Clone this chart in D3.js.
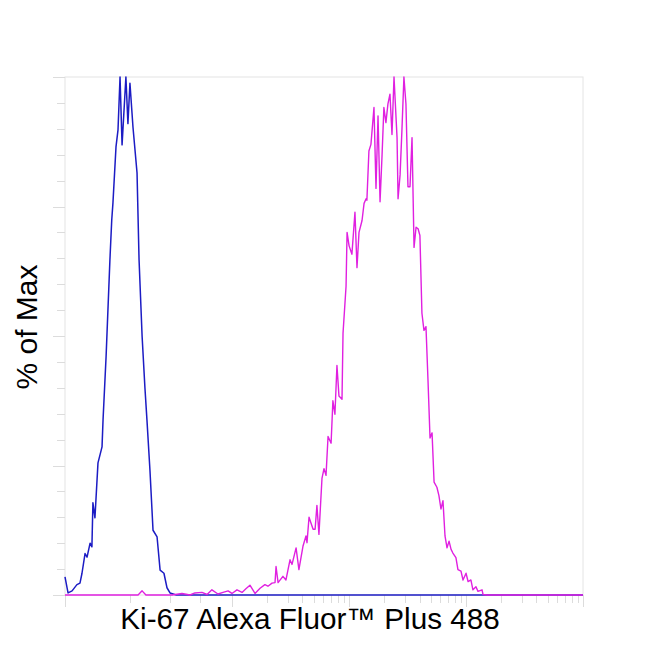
<!DOCTYPE html>
<html>
<head>
<meta charset="utf-8">
<script src="https://cdn.jsdelivr.net/npm/d3@7.9.0/dist/d3.min.js"></script>
<style>
  body { margin: 0; background: #fff; }
  svg { display: block; font-family: "Liberation Sans", Arial, sans-serif; }
</style>
</head>
<body>
<div id="chart"></div>
<script>
// histogram bins: [channel (0-256), % of max]
const isotypeHist = [
  [0, 3.5], [1.5, 0.4], [3.5, 0.8], [5.9, 2], [7.4, 2.3], [8.4, 4.2], [9.9, 8],
  [10.9, 7.3], [12.4, 10], [13.3, 9.3], [13.8, 17.8], [14.8, 14.9], [16.3, 25.5],
  [18.3, 28.6], [18.8, 33.8], [20.3, 46], [22.2, 64.7], [23.1, 72.4], [23.7, 75.7],
  [25.2, 86.5], [26.2, 89.8], [27.2, 100], [28.2, 86.9], [30.1, 100], [31.1, 91],
  [32.1, 98.8], [33.6, 90.3], [35.6, 81.5], [36.6, 64.7], [38.1, 50], [39.5, 40],
  [40.5, 33.8], [42, 24], [43.5, 12.5], [45.5, 11.2], [47, 4.8], [48.9, 4.2],
  [50.4, 1.4], [51.9, 0.4], [53.4, 0.2], [55, 0], [256, 0]
];

const ki67Hist = [
  [0, 0], [36.1, 0], [38.1, 0.8], [40, 0], [52.9, 0], [57.8, 0.3], [61.8, 0],
  [64.2, 0.4], [67.7, 0.5], [70.2, 0.1], [72.6, 1.0], [75.6, 0.2], [78.1, 0.5],
  [80.6, 0.8], [82.5, 0.3], [85, 1.0], [87.5, 0.5], [89.4, 1.2], [91.4, 1.9],
  [93.9, 0.3], [96.4, 1.3], [98.8, 2.0], [100.3, 1.7], [102.3, 2.3], [103.8, 2.4],
  [104.3, 5.5], [105.3, 2.4], [107.7, 3.6], [109.2, 2.9], [111.2, 6.8], [112.2, 5.9],
  [114.2, 9.1], [115.6, 4.9], [117.6, 9.4], [119.1, 11.4], [119.6, 10.1], [120.6, 15],
  [122.6, 12.7], [123.6, 12.7], [124.5, 17.3], [125.5, 11.7], [127, 22.5], [128, 24.4],
  [129, 23.1], [130, 30.6], [131.5, 29.3], [132.4, 37.5], [133.4, 34.9], [134.4, 44.3],
  [135.4, 38.4], [136.9, 37.8], [137.4, 50.5], [138.9, 59.6], [139.4, 70], [140.4, 67.4],
  [141.8, 65.8], [143.3, 73.9], [144.3, 63.2], [145.3, 70], [146.8, 72.3], [147.8, 75.6],
  [148.8, 76.5], [149.2, 76.2], [150.2, 85.7], [151.2, 87], [152.7, 94.1], [153.7, 78.5],
  [154.7, 92.5], [155.7, 75.9], [156.7, 85], [157.6, 94.1], [158.6, 91.2], [159.6, 94.8],
  [160.6, 96.7], [161.6, 88.9], [162.6, 100], [164.1, 88.3], [164.6, 76.5], [165.6, 81.1],
  [166.5, 89.6], [167.5, 100], [168.5, 94.8], [169.5, 78.8], [170.5, 78.8], [171.5, 88.3],
  [172.5, 67.1], [173.5, 71], [174.5, 70.7], [175.4, 69.4], [176.4, 54.4], [177.4, 51.1],
  [178.4, 51.8], [179.4, 41.4], [180.4, 30.3], [181.4, 31.3], [182.4, 21.8], [183.8, 20.8],
  [184.8, 19.2], [185.8, 16.6], [186.8, 18.2], [187.8, 11.4], [188.8, 9.1], [189.8, 10.4],
  [190.8, 8.8], [191.7, 8.1], [193.2, 7.2], [194.2, 4.9], [195.7, 4.6], [196.7, 2.9],
  [198.2, 4.2], [199.2, 2.6], [200.6, 2.9], [201.6, 1.0], [203.1, 1.6], [204.1, 0.7],
  [206.1, 1.0], [206.6, 0.1], [208.6, 0], [256, 0]
];

// x axis ticks (channel units): low linear region + decade marks
const lowTicks = [0, 32.1, 51.9, 66.7];
const decadeTicks = [82.5, 140.4, 198.2, 256];
const yMajorTicks = [0, 25, 50, 75, 100];

const xLabel = "Ki-67 Alexa Fluor\u2122 Plus 488";
const yLabel = "% of Max";

const width = 650, height = 650;
const margin = { top: 77, right: 67, bottom: 55, left: 65 };
const plot = {
  left: margin.left,
  right: width - margin.right,
  top: margin.top,
  bottom: height - margin.bottom
};

const svg = d3.select("#chart").append("svg")
  .attr("width", width)
  .attr("height", height);

const x = d3.scaleLinear().domain([0, 256]).range([plot.left, plot.right]);
const y = d3.scaleLinear().domain([0, 100]).range([plot.bottom, plot.top]);

// --- frame ---
svg.append("rect")
  .attr("x", plot.left)
  .attr("y", plot.top)
  .attr("width", plot.right - plot.left)
  .attr("height", plot.bottom - plot.top)
  .attr("fill", "none")
  .attr("stroke", "#e4e4e4")
  .attr("stroke-width", 1);

// --- y ticks ---
const yMinor = d3.range(0, 101, 5);
svg.append("g")
  .selectAll("line")
  .data(yMinor)
  .join("line")
  .attr("x1", (d) => plot.left - (yMajorTicks.includes(d) ? 12 : 8))
  .attr("x2", plot.left)
  .attr("y1", (d) => Math.round(y(d)) + 0.5)
  .attr("y2", (d) => Math.round(y(d)) + 0.5)
  .attr("stroke", "#dcdcdc");

// --- x ticks ---
const xTicks = lowTicks.map((d) => ({ v: d, major: d === 0 }));
decadeTicks.forEach((d, i) => {
  xTicks.push({ v: d, major: true });
  if (i < decadeTicks.length - 1) {
    const w = decadeTicks[i + 1] - d;
    for (let m = 2; m <= 9; m++) xTicks.push({ v: d + w * Math.log10(m), major: false });
  }
});
svg.append("g")
  .selectAll("line")
  .data(xTicks)
  .join("line")
  .attr("x1", (d) => Math.round(x(d.v)) + 0.5)
  .attr("x2", (d) => Math.round(x(d.v)) + 0.5)
  .attr("y1", plot.bottom)
  .attr("y2", (d) => plot.bottom + (d.major ? 12 : 8))
  .attr("stroke", "#dcdcdc");

// --- histograms ---
const line = d3.line()
  .x((d) => x(d[0]))
  .y((d) => y(d[1]));

svg.append("path")
  .datum(isotypeHist)
  .attr("d", line)
  .attr("fill", "none")
  .attr("stroke", "#1c1cc4")
  .attr("stroke-width", 1.5)
  .attr("stroke-linejoin", "round");

svg.append("path")
  .datum(ki67Hist)
  .attr("d", line)
  .attr("fill", "none")
  .attr("stroke", "#e020e0")
  .attr("stroke-width", 1.4)
  .attr("stroke-linejoin", "round");

// --- labels ---
svg.append("text")
  .attr("x", 310)
  .attr("y", 629)
  .attr("text-anchor", "middle")
  .attr("font-size", "29.7px")
  .attr("fill", "#000")
  .text(xLabel);

svg.append("text")
  .attr("transform", `translate(37, 327) rotate(-90)`)
  .attr("text-anchor", "middle")
  .attr("font-size", "30px")
  .attr("fill", "#000")
  .text(yLabel);
</script>
</body>
</html>
